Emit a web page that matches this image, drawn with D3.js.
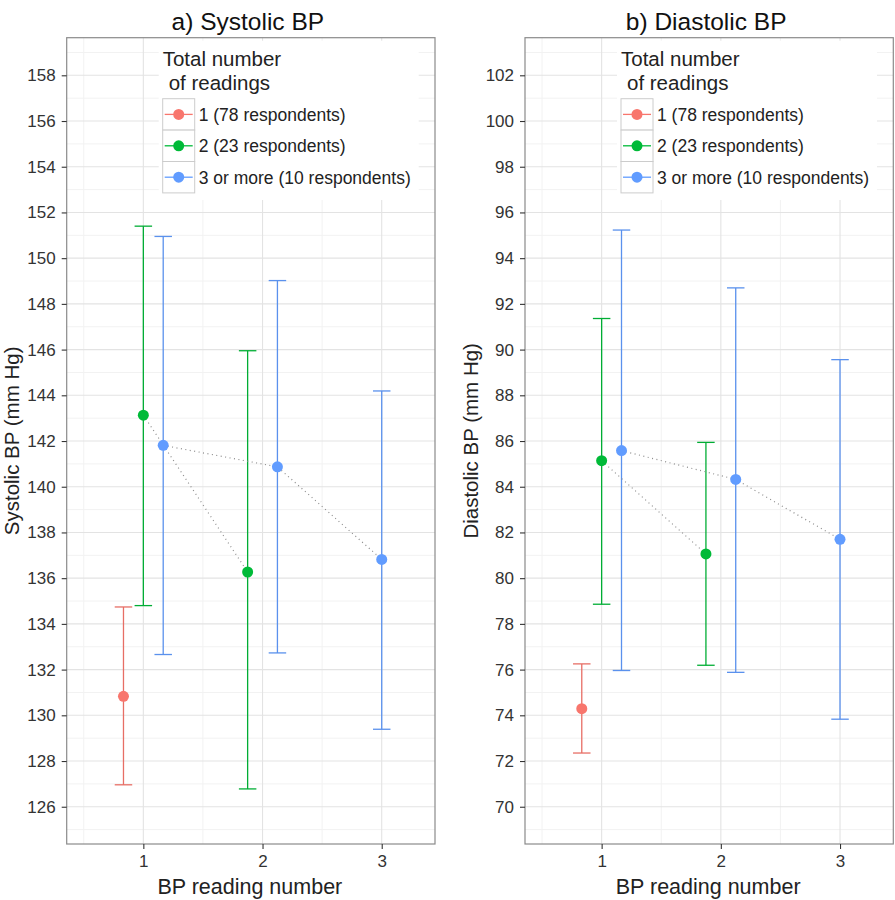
<!doctype html>
<html>
  <head>
    <meta charset="utf-8">
    <title>BP readings</title>
    <script src="https://cdnjs.cloudflare.com/ajax/libs/d3/7.8.5/d3.min.js"></script>
    <style>
      body { margin: 0; background: #fff; }
      svg { font-family: "Liberation Sans", Arial, sans-serif; }
    </style>
  </head>
  <body>
    <div id="chart"></div>
    <script>
      // --- data ---
      const readings = [1, 2, 3];
      const groups = ["1 (78 respondents)", "2 (23 respondents)", "3 or more (10 respondents)"];

      // systolic: one array per group, one value per reading
      const sysMean1 = [130.83];
      const sysLow1 = [126.96];
      const sysHigh1 = [134.74];
      const sysMean2 = [143.13, 136.27];
      const sysLow2 = [134.8, 126.78];
      const sysHigh2 = [151.4, 145.95];
      const sysMean3 = [141.81, 140.87, 136.82];
      const sysLow3 = [132.66, 132.73, 129.39];
      const sysHigh3 = [150.95, 149.02, 144.19];

      // diastolic
      const diaMean1 = [74.29];
      const diaLow1 = [72.35];
      const diaHigh1 = [76.25];
      const diaMean2 = [85.14, 81.06];
      const diaLow2 = [78.86, 76.19];
      const diaHigh2 = [91.36, 85.94];
      const diaMean3 = [85.58, 84.32, 81.7];
      const diaLow3 = [75.96, 75.88, 73.83];
      const diaHigh3 = [95.23, 92.7, 89.56];

      const sysTicks = [126, 128, 130, 132, 134, 136, 138, 140, 142, 144, 146, 148, 150, 152, 154, 156, 158];
      const diaTicks = [70, 72, 74, 76, 78, 80, 82, 84, 86, 88, 90, 92, 94, 96, 98, 100, 102];
      const xTicks = [1, 2, 3];

      const colors = ["#F8766D", "#00BA38", "#619CFF"];

      // --- layout ---
      const W = 895, H = 900;
      const plotTop = 37.7, plotBottom = 844;
      const dodgeWidth = 0.5, capHalf = 0.0734;

      const svg = d3.select('#chart').append('svg')
        .attr('width', W)
        .attr('height', H);

      const panels = [
        {
          title: "a) Systolic BP", ylab: "Systolic BP (mm Hg)",
          left: 66.7, right: 435, yDomain: [124.37, 159.645], ticks: sysTicks, ylabX: 19,
          mean: [sysMean1, sysMean2, sysMean3], low: [sysLow1, sysLow2, sysLow3], high: [sysHigh1, sysHigh2, sysHigh3]
        },
        {
          title: "b) Diastolic BP", ylab: "Diastolic BP (mm Hg)",
          left: 525, right: 893.3, yDomain: [68.37, 103.645], ticks: diaTicks, ylabX: 478,
          mean: [diaMean1, diaMean2, diaMean3], low: [diaLow1, diaLow2, diaLow3], high: [diaHigh1, diaHigh2, diaHigh3]
        }
      ];

      panels.forEach(p => {
        const g = svg.append('g');

        const x = d3.scaleLinear().domain([0.357, 3.447]).range([p.left, p.right]);
        const y = d3.scaleLinear().domain(p.yDomain).range([plotBottom, plotTop]);

        // rows: one per group and reading, with dodged x
        const rows = [];
        p.mean.forEach((vals, gi) => {
          vals.forEach((v, ri) => {
            const r = readings[ri];
            const n = p.mean.filter(m => m.length >= r).length;
            const idx = gi - (p.mean.length - n);
            const pos = r + (idx - (n - 1) / 2) * dodgeWidth / n;
            rows.push({ group: gi, reading: r, pos: pos, mean: v, low: p.low[gi][ri], high: p.high[gi][ri] });
          });
        });

        // grid
        const minorY = p.ticks.map(t => t - 1).concat([p.ticks[p.ticks.length - 1] + 1]);
        const minorX = [0.5, 1.5, 2.5];

        g.append('g').selectAll('line').data(minorY).join('line')
          .attr('x1', p.left).attr('x2', p.right)
          .attr('y1', d => y(d)).attr('y2', d => y(d))
          .attr('stroke', '#F2F2F2').attr('stroke-width', 1);
        g.append('g').selectAll('line').data(minorX).join('line')
          .attr('y1', plotTop).attr('y2', plotBottom)
          .attr('x1', d => x(d)).attr('x2', d => x(d))
          .attr('stroke', '#F2F2F2').attr('stroke-width', 1);
        g.append('g').selectAll('line').data(p.ticks).join('line')
          .attr('x1', p.left).attr('x2', p.right)
          .attr('y1', d => y(d)).attr('y2', d => y(d))
          .attr('stroke', '#E3E3E3').attr('stroke-width', 1.1);
        g.append('g').selectAll('line').data(xTicks).join('line')
          .attr('y1', plotTop).attr('y2', plotBottom)
          .attr('x1', d => x(d)).attr('x2', d => x(d))
          .attr('stroke', '#E3E3E3').attr('stroke-width', 1.1);

        // legend box (white background over grid)
        const lx = p.left + 96;
        const legend = g.append('g');
        legend.append('rect')
          .attr('x', lx - 4).attr('y', plotTop + 3)
          .attr('width', 260).attr('height', 200 - plotTop - 3)
          .attr('fill', '#fff');
        legend.append('text')
          .attr('x', lx).attr('y', 66)
          .attr('font-size', 20.5).attr('fill', '#222')
          .text('Total number');
        legend.append('text')
          .attr('x', lx + 6).attr('y', 90)
          .attr('font-size', 20.5).attr('fill', '#222')
          .text('of readings');
        const keyTop = 98.7, keyH = 31.4, keyW = 32;
        groups.forEach((name, i) => {
          const ky = keyTop + i * keyH;
          legend.append('rect')
            .attr('x', lx).attr('y', ky)
            .attr('width', keyW).attr('height', keyH)
            .attr('fill', '#fff').attr('stroke', '#CCCCCC').attr('stroke-width', 1);
          legend.append('line')
            .attr('x1', lx + 2).attr('x2', lx + keyW - 2)
            .attr('y1', ky + keyH / 2).attr('y2', ky + keyH / 2)
            .attr('stroke', colors[i]).attr('stroke-width', 1.3);
          legend.append('circle')
            .attr('cx', lx + keyW / 2).attr('cy', ky + keyH / 2)
            .attr('r', 5.5).attr('fill', colors[i]);
          legend.append('text')
            .attr('x', lx + 36).attr('y', ky + keyH / 2)
            .attr('dy', '0.36em')
            .attr('font-size', 17.5).attr('fill', '#222')
            .text(name);
        });

        // error bars
        const bars = g.append('g').selectAll('g').data(rows).join('g')
          .attr('stroke', d => d3.color(colors[d.group]).darker(0.2)).attr('stroke-width', 1.3);
        bars.append('line')
          .attr('x1', d => x(d.pos)).attr('x2', d => x(d.pos))
          .attr('y1', d => y(d.low)).attr('y2', d => y(d.high));
        bars.append('line')
          .attr('x1', d => x(d.pos - capHalf)).attr('x2', d => x(d.pos + capHalf))
          .attr('y1', d => y(d.low)).attr('y2', d => y(d.low));
        bars.append('line')
          .attr('x1', d => x(d.pos - capHalf)).attr('x2', d => x(d.pos + capHalf))
          .attr('y1', d => y(d.high)).attr('y2', d => y(d.high));

        // dotted connecting lines
        const line = d3.line().x(d => x(d.pos)).y(d => y(d.mean));
        const byGroup = d3.groups(rows, d => d.group).filter(([k, v]) => v.length > 1);
        g.append('g').selectAll('path').data(byGroup).join('path')
          .attr('d', d => line(d[1]))
          .attr('fill', 'none')
          .attr('stroke', '#8C8C8C')
          .attr('stroke-width', 1.2)
          .attr('stroke-dasharray', '1,3.5');

        // points
        g.append('g').selectAll('circle').data(rows).join('circle')
          .attr('cx', d => x(d.pos)).attr('cy', d => y(d.mean))
          .attr('r', 5.5)
          .attr('fill', d => colors[d.group]);

        // panel border
        g.append('rect')
          .attr('x', p.left).attr('y', plotTop)
          .attr('width', p.right - p.left).attr('height', plotBottom - plotTop)
          .attr('fill', 'none').attr('stroke', '#8A8A8A').attr('stroke-width', 1.2);

        // axes
        const yAxis = g.append('g')
          .attr('transform', `translate(${p.left},0)`)
          .call(d3.axisLeft(y).tickValues(p.ticks).tickSize(5).tickPadding(6));
        const xAxis = g.append('g')
          .attr('transform', `translate(0,${plotBottom})`)
          .call(d3.axisBottom(x).tickValues(xTicks).tickFormat(d3.format('d')).tickSize(5).tickPadding(6));
        [yAxis, xAxis].forEach(a => {
          a.select('.domain').remove();
          a.selectAll('.tick line').attr('stroke', '#333').attr('stroke-width', 1.1);
          a.selectAll('.tick text')
            .attr('font-size', 17).attr('fill', '#333')
            .attr('font-family', '"Liberation Sans", Arial, sans-serif');
        });

        // titles
        g.append('text')
          .attr('x', (p.left + p.right) / 2 - 3).attr('y', 30)
          .attr('text-anchor', 'middle')
          .attr('font-size', 24.5).attr('fill', '#111')
          .text(p.title);
        g.append('text')
          .attr('x', (p.left + p.right) / 2 - 1).attr('y', 894)
          .attr('text-anchor', 'middle')
          .attr('font-size', 21.5).attr('fill', '#222')
          .text('BP reading number');
        g.append('text')
          .attr('transform', `translate(${p.ylabX},${(plotTop + plotBottom) / 2}) rotate(-90)`)
          .attr('text-anchor', 'middle')
          .attr('font-size', 20.5).attr('fill', '#222')
          .text(p.ylab);
      });
    </script>
  </body>
</html>
